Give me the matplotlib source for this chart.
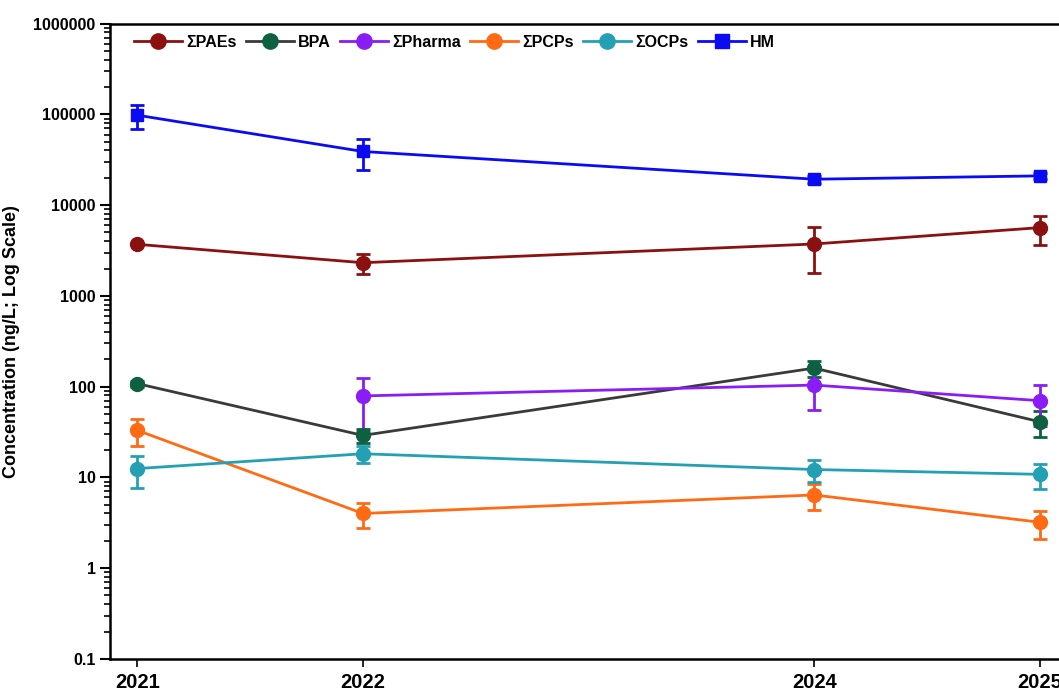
import numpy as np
import matplotlib
matplotlib.use('Agg')
import matplotlib.pyplot as plt
from matplotlib.lines import Line2D
from matplotlib.ticker import LogLocator, FixedLocator, NullFormatter

plt.rcParams['font.family'] = ['Liberation Sans', 'DejaVu Sans']
plt.rcParams['font.weight'] = 'bold'

years = [2021, 2022, 2024, 2025]

paes = [3700, 2320, 3730, 5650]
paes_err = [0, 560, 1950, 2000]
bpa = [108, 29, 160, 41]
bpa_err = [8, 5, 32, 13]
pharma_years = [2022, 2024, 2025]
pharma = [79, 104, 70]
pharma_err = [47, 49, 33]
pcps = [33, 4.0, 6.4, 3.2]
pcps_err = [11, 1.2, 2.0, 1.1]
ocps = [12.5, 18.2, 12.2, 10.8]
ocps_err = [4.8, 3.8, 3.4, 3.3]
hm = [98000, 39000, 19300, 21000]
hm_err = [29000, 14500, 1800, 1700]

yticks = [0.1, 1, 10, 100, 1000, 10000, 100000, 1000000]
ytick_labels = ['0.1', '1', '10', '100', '1000', '10000', '100000', '1000000']

series = [
    ('ΣPAEs', years, paes, paes_err, '#8b1010', '#8b1010', 'o'),
    ('BPA', years, bpa, bpa_err, '#3a3a3a', '#0d6040', 'o'),
    ('ΣPharma', pharma_years, pharma, pharma_err, '#8a1cf5', '#8a1cf5', 'o'),
    ('ΣPCPs', years, pcps, pcps_err, '#ff6a14', '#ff6a14', 'o'),
    ('ΣOCPs', years, ocps, ocps_err, '#23a0b4', '#23a0b4', 'o'),
    ('HM', years, hm, hm_err, '#0a0af5', '#0a0af5', 's'),
]

fig = plt.figure(figsize=(10.59, 6.95), dpi=100)
ax = fig.add_axes([0.104, 0.052, 0.896, 0.914])

handles = []
for name, xs, ys, es, lc, mc, mk in series:
    ms = 10 if mk == 'o' else 9
    ax.errorbar(xs, ys, yerr=es, color=lc, marker=mk,
                markerfacecolor=mc, markeredgecolor=mc,
                ecolor=mc, elinewidth=2, capsize=5, capthick=2,
                markersize=ms, linewidth=2)
    handles.append(Line2D([], [], color=lc, marker=mk, markerfacecolor=mc,
                          markeredgecolor=mc, markersize=ms + 1, linewidth=2,
                          label=name))

ax.set_yscale('log')
ax.set_ylim(0.1, 1000000)
ax.set_xlim(2020.88, 2025.085)

ax.yaxis.set_major_locator(FixedLocator(yticks))
ax.set_yticklabels(ytick_labels)
ax.yaxis.set_minor_locator(LogLocator(base=10, subs=np.arange(2, 10)))
ax.yaxis.set_minor_formatter(NullFormatter())
ax.set_xticks(years)
ax.set_xticklabels([str(y) for y in years])

ax.tick_params(axis='y', which='major', direction='out', length=7, width=1.5, labelsize=11.5)
ax.tick_params(axis='y', which='minor', direction='out', length=4, width=1.2)
ax.tick_params(axis='x', which='major', direction='out', length=6, width=1.2, labelsize=14.5, pad=4)
ax.tick_params(axis='x', which='minor', bottom=False)

for s in ['left', 'bottom', 'top']:
    ax.spines[s].set_linewidth(1.8)
ax.spines['right'].set_visible(False)

ax.set_ylabel('Concentration (ng/L; Log Scale)', fontsize=13, fontweight='bold')
ax.yaxis.set_label_coords(-0.095, 0.5)

ax.legend(handles=handles, loc='upper left', ncol=6, frameon=False, fontsize=11.5,
          handlelength=3.0, handletextpad=0.25, columnspacing=0.6,
          bbox_to_anchor=(0.01, 1.005))

fig.savefig('out.png', dpi=100)
